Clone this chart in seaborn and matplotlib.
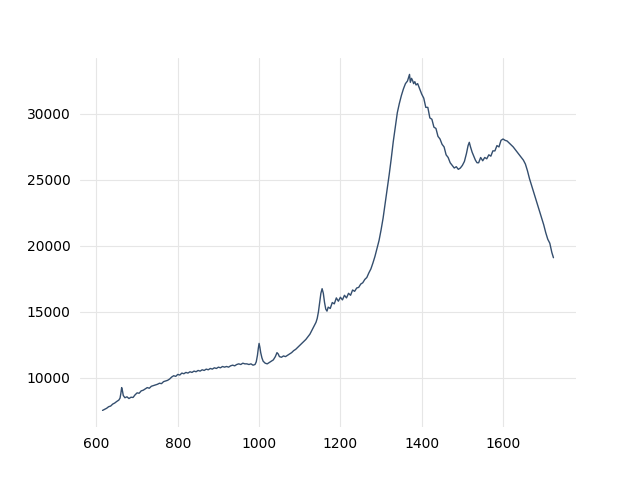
import matplotlib
matplotlib.use("Agg")
import matplotlib.pyplot as plt
import seaborn as sns
import pandas as pd

wavenumber = [
    615, 620, 625, 630, 635, 640, 645, 650, 655, 658, 660, 662, 664, 666, 670, 675, 680, 685, 690, 695,
    700, 705, 710, 715, 720, 725, 730, 735, 740, 745, 750, 755, 760, 765, 770, 775, 780, 785, 790, 795,
    800, 805, 810, 815, 820, 825, 830, 835, 840, 845, 850, 855, 860, 865, 870, 875, 880, 885, 890, 895,
    900, 905, 910, 915, 920, 925, 930, 935, 940, 945, 950, 955, 960, 965, 970, 975, 980, 985, 990, 993,
    996, 998, 1000, 1002, 1004, 1007, 1010, 1015, 1020, 1025, 1030, 1035, 1040, 1044, 1047, 1050, 1055,
    1060, 1065, 1070, 1075, 1080, 1085, 1090, 1095, 1100, 1105, 1110, 1115, 1120, 1125, 1130, 1135,
    1140, 1143, 1146, 1149, 1152, 1155, 1158, 1161, 1164, 1167, 1170, 1175, 1180, 1185, 1190, 1195,
    1200, 1205, 1210, 1215, 1220, 1225, 1230, 1235, 1240, 1245, 1250, 1255, 1260, 1265, 1270, 1275,
    1280, 1285, 1290, 1295, 1300, 1305, 1310, 1315, 1320, 1325, 1330, 1335, 1340, 1345, 1350, 1355,
    1360, 1365, 1368, 1370, 1372, 1375, 1378, 1380, 1383, 1386, 1390, 1395, 1400, 1405, 1410, 1415,
    1420, 1425, 1430, 1435, 1440, 1445, 1450, 1455, 1460, 1465, 1470, 1475, 1480, 1485, 1490, 1495,
    1500, 1505, 1510, 1514, 1517, 1520, 1524, 1528, 1532, 1536, 1540, 1545, 1550, 1555, 1560, 1565,
    1570, 1575, 1580, 1585, 1590, 1595, 1600, 1605, 1610, 1615, 1620, 1625, 1630, 1635, 1640, 1645,
    1650, 1655, 1660, 1665, 1670, 1675, 1680, 1685, 1690, 1695, 1700, 1705, 1710, 1715, 1720, 1724,
]

intensity = [
    7520, 7600, 7680, 7800, 7850, 8000, 8080, 8200, 8300, 8450, 8800, 9250, 9000, 8650, 8480, 8550, 8420, 8520, 8500, 8700,
    8850, 8820, 9000, 9050, 9150, 9250, 9200, 9350, 9400, 9450, 9500, 9580, 9550, 9700, 9750, 9800, 9900, 10050, 10150, 10100,
    10250, 10200, 10350, 10300, 10400, 10350, 10450, 10400, 10500, 10450, 10550, 10500, 10600, 10550, 10650, 10600, 10700, 10650, 10750, 10700,
    10800, 10750, 10850, 10800, 10850, 10800, 10900, 10950, 10900, 11000, 11050, 11000, 11100, 11050, 11050, 11000, 11050, 10950, 11000, 11200,
    11700, 12200, 12600, 12300, 11900, 11500, 11250, 11100, 11050, 11150, 11250, 11350, 11600, 11900, 11800, 11600, 11550,
    11650, 11600, 11700, 11800, 11900, 12050, 12150, 12300, 12450, 12600, 12750, 12900, 13100, 13300, 13600, 13900,
    14200, 14500, 15000, 15700, 16400, 16750, 16400, 15700, 15200, 15050, 15350, 15250, 15700, 15600, 16050, 15800,
    16100, 15900, 16250, 16050, 16400, 16250, 16650, 16550, 16800, 16850, 17100, 17200, 17450, 17600, 17950, 18250,
    18700, 19200, 19800, 20400, 21200, 22100, 23200, 24300, 25400, 26600, 27900, 29000, 30100, 30800, 31400, 31900,
    32300, 32500, 32800, 33000, 32400, 32700, 32500, 32300, 32450, 32200, 32300, 31900, 31500, 31200, 30500, 30500,
    29700, 29600, 29000, 28900, 28300, 28100, 27700, 27500, 26900, 26700, 26300, 26100, 25900, 26000, 25800, 25900,
    26100, 26400, 27000, 27600, 27850, 27500, 27100, 26800, 26500, 26300, 26300, 26700, 26450, 26700, 26600, 26900,
    26800, 27200, 27200, 27600, 27500, 28000, 28100, 28000, 27950, 27800, 27650, 27500, 27300, 27100, 26900, 26700,
    26500, 26200, 25700, 25100, 24600, 24100, 23600, 23100, 22600, 22100, 21600, 21000, 20500, 20200, 19500, 19100,
]

df = pd.DataFrame({"wavenumber": wavenumber, "intensity": intensity})

sns.set_style("whitegrid", {"grid.color": "#e6e6e6"})
plt.rcParams["xtick.major.size"] = 3.5
plt.rcParams["ytick.major.size"] = 3.5
plt.rcParams["xtick.color"] = "black"
plt.rcParams["ytick.color"] = "black"
plt.rcParams["font.family"] = ["DejaVu Sans"]

fig, ax = plt.subplots(figsize=(6.4, 4.8), dpi=100)
sns.lineplot(data=df, x="wavenumber", y="intensity", ax=ax, color="#344e6e", linewidth=1)
ax.set_xlabel("")
ax.set_ylabel("")
ax.set_xticks([600, 800, 1000, 1200, 1400, 1600])
ax.set_yticks([10000, 15000, 20000, 25000, 30000])
ax.tick_params(axis="both", colors="black", labelsize=10, length=3.5, width=0.8)
sns.despine(ax=ax, left=True, bottom=True)
fig.savefig("out.png", dpi=100)
